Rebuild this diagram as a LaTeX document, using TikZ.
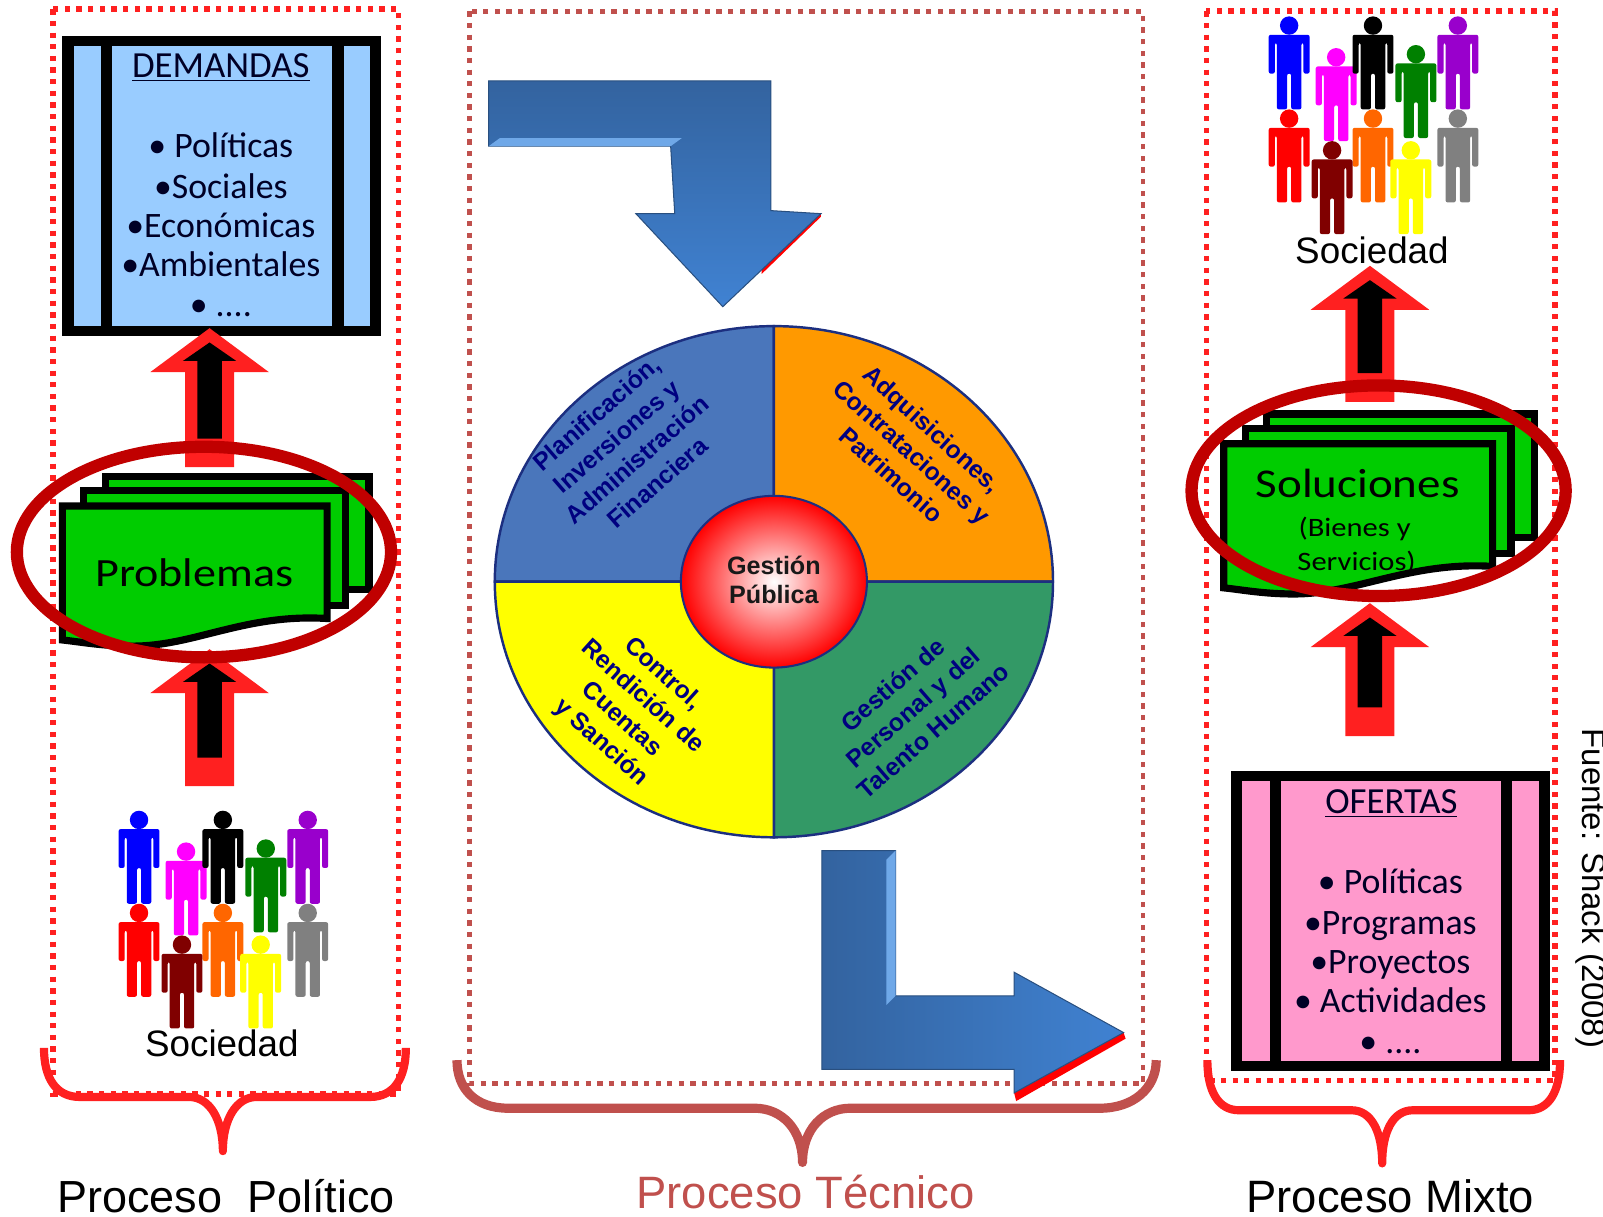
\documentclass[tikz,border=0pt]{standalone}
\usepackage{fontspec}
\setmainfont{Carlito}
\newfontfamily\arialfont{Liberation Sans}
\newfontfamily\widefont[FakeStretch=1.15]{Carlito}
\usepackage{tikz}
\usetikzlibrary{shapes.geometric}

\definecolor{dotred}{HTML}{FF2020}
\definecolor{brickred}{HTML}{C0504D}
\definecolor{ringred}{HTML}{C00000}
\definecolor{demblue}{HTML}{99CCFF}
\definecolor{ofepink}{HTML}{FF99CC}
\definecolor{sheetgreen}{HTML}{00CC00}
\definecolor{piePlan}{HTML}{4A76BB}
\definecolor{pieAdq}{HTML}{FF9900}
\definecolor{pieGes}{HTML}{339966}
\definecolor{pieCon}{HTML}{FFFF00}
\definecolor{pieLine}{HTML}{1C2F80}
\definecolor{arrowdark}{HTML}{33639F}
\definecolor{arrowlight}{HTML}{4082D2}
\definecolor{arrowhigh}{HTML}{6FA8E8}
\definecolor{manBlue}{HTML}{0000FF}
\definecolor{manPink}{HTML}{FF00FF}
\definecolor{manBlack}{HTML}{000000}
\definecolor{manGreen}{HTML}{008000}
\definecolor{manPurple}{HTML}{9900CC}
\definecolor{manRed}{HTML}{FF0000}
\definecolor{manOrange}{HTML}{FF6600}
\definecolor{manGray}{HTML}{808080}
\definecolor{manMaroon}{HTML}{800000}
\definecolor{manYellow}{HTML}{FFFF00}

\tikzset{
  dotframe/.style={line width=2.7pt, dash pattern=on 2.6pt off 3.1pt},
  curlybrace/.style={line width=4pt, line join=round},
  sheet/.style={draw=black, line width=3.5pt, fill=sheetgreen, line join=miter},
  ring/.style={draw=ringred, line width=6pt},
  listtext/.style={anchor=base, font=\fontsize{17.5}{20}\selectfont, text=black!85!blue},
  peoplelabel/.style={anchor=base, font=\arialfont\fontsize{18}{20}\selectfont},
  procesolabel/.style={anchor=base, inner sep=0pt, font=\arialfont\fontsize{22.2}{24}\selectfont},
  sectortext/.style={align=center, text=blue!50!black, font=\arialfont\bfseries\fontsize{12.1}{15}\selectfont}
}

\begin{document}
\begin{tikzpicture}[x=0.5pt, y=-0.5pt]
\useasboundingbox (0,0) rectangle (1568,1190);

% Dotted frames
\draw[dotframe, dotred] (52,9) rectangle (390,1070);
\draw[dotframe, brickred, line width=2.2pt] (459,11) rectangle (1118,1060);
\draw[dotframe, dotred] (1180,11) rectangle (1521,1057);

% Curly braces under the frames
\draw[curlybrace, dotred] (43,1025) .. controls (43,1055) and (55,1073) .. (78,1073) -- (185,1073) .. controls (205,1073) and (218,1095) .. (218,1126) .. controls (218,1095) and (231,1073) .. (251,1073) -- (362,1073) .. controls (385,1073) and (397,1055) .. (397,1025);
\draw[curlybrace, brickred, line width=4.5pt] (447,1037) .. controls (447,1065) and (465,1084) .. (497,1084) -- (738,1084) .. controls (765,1084) and (785,1105) .. (785,1137) .. controls (785,1105) and (805,1084) .. (832,1084) -- (1076,1084) .. controls (1108,1084) and (1131,1065) .. (1131,1037);
\draw[curlybrace, dotred] (1181,1037) .. controls (1181,1068) and (1192,1086) .. (1212,1086) -- (1322,1086) .. controls (1342,1086) and (1352,1108) .. (1352,1138) .. controls (1352,1108) and (1362,1086) .. (1382,1086) -- (1495,1086) .. controls (1515,1086) and (1526,1068) .. (1526,1037);

% Boxes with side strips
\foreach \ox/\oy/\col in {0/0/demblue, 1143/719/ofepink}
{
    \begin{scope}[shift={(\ox,\oy)}]
    \fill[black] (61,35) rectangle (373,329);
    \fill[\col] (72,45) rectangle (99,319);
    \fill[\col] (110,45) rectangle (325,319);
    \fill[\col] (336,45) rectangle (362,319);
    \end{scope}
}

% Text of the boxes
\node[listtext, font=\fontsize{18}{20}\selectfont] (demTitle) at (216,76) {\underline{DEMANDAS}};
\foreach \txt/\y in {{• Políticas}/154, {•Sociales}/194, {•Económicas}/232, {•Ambientales}/270, {• ....}/310}
{
    \node[listtext] (dem\y) at (216,\y) {\txt};
}
\node[listtext, font=\fontsize{18}{20}\selectfont] (ofeTitle) at (1361,796) {\underline{OFERTAS}};
\foreach \txt/\y in {{• Políticas}/874, {•Programas}/914, {•Proyectos}/952, {• Actividades}/990, {• ....}/1030}
{
    \node[listtext] (ofe\y) at (1360,\y) {\txt};
}

% Red and black block arrows
\foreach \x/\y/\h in {205/321/136, 205/635/134, 1340/260/133, 1340/590/130}
{
    \begin{scope}[shift={(\x,\y)}]
    \fill[dotred] (0,0) -- (58,43) -- (24,43) -- (24,\h) -- (-24,\h) -- (-24,43) -- (-58,43) -- cycle;
    \fill[black] (0,14) -- (26,32) -- (12,32) -- (12,\h-28) -- (-12,\h-28) -- (-12,32) -- (-26,32) -- cycle;
    \end{scope}
}

% Stacks of sheets
\foreach \ox/\oy/\wx/\ex in {0/0/0/0, 1136/-61/4/10}
{
    \begin{scope}[shift={(\ox,\oy)}]
    \draw[sheet] (103,466) -- ({361+\wx},466) -- ({361+\wx},{577+\ex}) -- (103,{577+\ex}) -- cycle;
    \draw[sheet] (82,480) -- ({338+\wx},480) -- ({338+\wx},{592+\ex}) -- (82,{592+\ex}) -- cycle;
    \draw[sheet] (61,495) -- ({320+\wx},495) -- ({320+\wx},{605+\ex}) .. controls ({240+\wx},{600+\ex}) and (190,{632+\ex}) .. (130,{632+\ex}) .. controls (100,{632+\ex}) and (80,{628+\ex}) .. (61,{626+\ex}) -- cycle;
    \end{scope}
}
\node[anchor=base, font=\widefont\fontsize{19.6}{22}\selectfont] (problemas) at (190,574) {Problemas};
\node[anchor=base, font=\widefont\fontsize{20}{22}\selectfont] (soluciones) at (1328,487) {Soluciones};
\node[anchor=base, font=\widefont\fontsize{13}{15}\selectfont] (bienes) at (1325,525) {(Bienes y};
\node[anchor=base, font=\widefont\fontsize{13}{15}\selectfont] (servicios) at (1327,558) {Servicios)};

% Red rings
\draw[ring] (199.5,540) ellipse [x radius=91.5pt, y radius=51.5pt];
\draw[ring] (1348.5,480) ellipse [x radius=91.5pt, y radius=51.5pt];

% People
\foreach \ox/\oy in {0/0, 1125/-777}
{
    \foreach \x/\y/\col in {136/793/manBlue, 182/824/manPink, 218/793/manBlack, 260/821/manGreen, 301/793/manPurple, 136/884/manRed, 218/884/manOrange, 301/884/manGray, 178/915/manMaroon, 255/915/manYellow}
    {
        \begin{scope}[shift={(\ox+\x,\oy+\y)}]
        \fill[\col] (0,9) circle (9);
        \fill[\col, rounded corners=1pt] (-20,18) -- (20,18) -- (20,56) -- (14,56) -- (14,26) -- (12,26) -- (12,91) -- (2,91) -- (2,56) -- (-2,56) -- (-2,91) -- (-12,91) -- (-12,26) -- (-14,26) -- (-14,56) -- (-20,56) -- cycle;
        \end{scope}
    }
}
\node[peoplelabel] (sociedadA) at (217,1033) {Sociedad};
\node[peoplelabel] (sociedadB) at (1342,258) {Sociedad};

% Blue bent arrows
\fill[red] (803,209) -- (803,212) -- (745,268) -- (745,262) -- cycle;
\shadedraw[draw=arrowdark!80!black, line width=0.5pt, top color=arrowdark, bottom color=arrowlight] (478,79) -- (754,79) -- (754,206) -- (803,209) -- (707,300) -- (622,209) -- (660,209) -- (656,143) -- (478,143) -- cycle;
\fill[arrowhigh] (478,143) -- (489,135) -- (667,135) -- (656,143) -- cycle;
\fill[red] (1099,1010) -- (1101,1016) -- (994,1077) -- (992,1069) -- cycle;
\shadedraw[draw=arrowdark!80!black, line width=0.5pt, left color=arrowdark, right color=arrowlight] (804,832) -- (876,832) -- (876,974) -- (992,974) -- (992,951) -- (1099,1010) -- (992,1069) -- (992,1046) -- (804,1046) -- cycle;
\fill[arrowhigh] (876,832) -- (876,974) -- (867,983) -- (867,841) -- cycle;

% Pie with four sectors
\coordinate (pie) at (757,569);
\foreach \a/\col in {90/piePlan, 0/pieAdq, 270/pieGes, 180/pieCon}
{
    \draw[draw=pieLine, line width=1.2pt, fill=\col] (pie) -- ++(\a:136.5pt and 125pt) arc[start angle=\a, delta angle=90, x radius=136.5pt, y radius=125pt] -- cycle;
}
\node[sectortext, rotate=41] (planificacion) at (613,438) {Planificación,\\Inversiones y\\Administración\\Financiera};
\node[sectortext, rotate=-42] (adquisiciones) at (892,442) {Adquisiciones,\\Contrataciones y\\Patrimonio};
\node[sectortext, rotate=41] (personal) at (893,692) {Gestión de\\Personal y del\\Talento Humano};
\node[sectortext, rotate=-42] (control) at (618,693) {Control,\\Rendición de\\Cuentas\\y Sanción};

% Centre of the pie
\node[ellipse, draw=pieLine, line width=1pt, inner color=white, outer color=red, minimum width=91pt, minimum height=84pt, inner sep=0pt, align=center, text=black!90, font=\arialfont\bfseries\fontsize{12.3}{14}\selectfont] (gestion) at (pie) {Gestión\\Pública\rule[-2pt]{0pt}{0pt}};

% Labels under the braces
\node[procesolabel, font=\arialfont\fontsize{22}{24}\selectfont] (politico) at (221,1186) {Proceso\ \ Político};
\node[procesolabel, text=brickred] (tecnico) at (788,1182) {Proceso Técnico};
\node[procesolabel] (mixto) at (1360,1186) {Proceso Mixto};
\node[rotate=-90, font=\arialfont\fontsize{16.1}{18}\selectfont] (fuente) at (1556,869) {Fuente: Shack (2008)};

\end{tikzpicture}
\end{document}
